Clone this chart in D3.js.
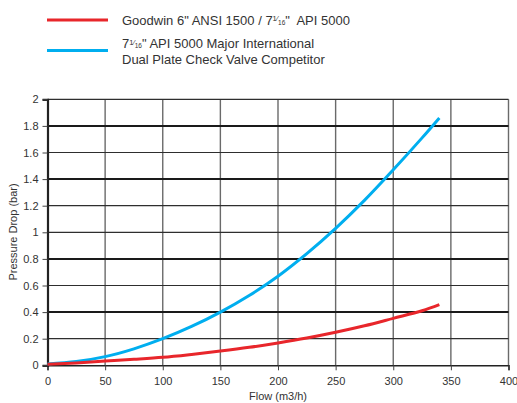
<!DOCTYPE html>
<html>
<head>
<meta charset="utf-8">
<script src="https://cdn.jsdelivr.net/npm/d3@7"></script>
<style>
  body { margin: 0; background: #fff; }
  svg { display: block; font-family: "Liberation Sans", Arial, sans-serif; }
</style>
</head>
<body>
<svg width="517" height="403"></svg>
<script>
// data
const flow = [0, 25, 50, 75, 100, 125, 150, 175, 200, 225, 250, 275, 300, 325, 340];
const goodwin = [0.008, 0.018, 0.032, 0.045, 0.06, 0.082, 0.107, 0.135, 0.168, 0.205, 0.248, 0.297, 0.353, 0.41, 0.456];
const competitor = [0.01, 0.028, 0.065, 0.124, 0.2, 0.292, 0.4, 0.525, 0.67, 0.84, 1.03, 1.24, 1.47, 1.71, 1.86];
const xTicks = [0, 50, 100, 150, 200, 250, 300, 350, 400];
const yTicks = [0, 0.2, 0.4, 0.6, 0.8, 1, 1.2, 1.4, 1.6, 1.8, 2];
const thickRows = [0.4, 0.8, 1.4, 1.8];

const redColor = "#e8262b";
const blueColor = "#00aeef";

const svg = d3.select("svg");

const xScale = d3.scaleLinear()
    .domain([0, 400])
    .range([47.5, 508.5]);

const yScale = d3.scaleLinear()
    .domain([0, 2])
    .range([365.3, 99.3]);

// vertical grid
svg.append("g")
    .selectAll("line")
    .data(xTicks.filter(v => v > 0))
    .enter().append("line")
    .attr("x1", d => xScale(d)).attr("x2", d => xScale(d))
    .attr("y1", yScale(2)).attr("y2", yScale(0))
    .attr("stroke", "#6a6a6a").attr("stroke-width", 1.4);

// horizontal grid
svg.append("g")
    .selectAll("line")
    .data(yTicks.filter(v => v > 0))
    .enter().append("line")
    .attr("x1", xScale(0)).attr("x2", xScale(400))
    .attr("y1", d => yScale(d)).attr("y2", d => yScale(d))
    .attr("stroke", d => thickRows.includes(d) ? "#1a1a1a" : "#2e2e2e")
    .attr("stroke-width", d => thickRows.includes(d) ? 2 : 1.2);

// axes
const xAxis = d3.axisBottom(xScale)
    .tickValues(xTicks)
    .tickSize(5)
    .tickFormat(d3.format("d"));

const yAxis = d3.axisLeft(yScale)
    .tickValues(yTicks)
    .tickSize(5)
    .tickFormat(d => d3.format("")(+d.toFixed(1)));

const gx = svg.append("g")
    .attr("transform", `translate(0, ${yScale(0)})`)
    .call(xAxis);
gx.select(".domain").attr("stroke", "#222").attr("stroke-width", 1.6);
gx.selectAll(".tick line").attr("stroke", "#444");
gx.selectAll(".tick text")
    .attr("fill", "#333").attr("font-size", 11).attr("dy", "1.1em")
    .style("font-family", "Liberation Sans, Arial, sans-serif");

const gy = svg.append("g")
    .attr("transform", `translate(${xScale(0)}, 0)`)
    .call(yAxis);
gy.select(".domain").attr("stroke", "#222").attr("stroke-width", 2.2);
gy.selectAll(".tick line").attr("stroke", "#444");
gy.selectAll(".tick text")
    .attr("fill", "#333").attr("font-size", 11).attr("x", -9)
    .style("font-family", "Liberation Sans, Arial, sans-serif");

// axis titles
svg.append("text")
    .attr("x", 278)
    .attr("y", 400)
    .attr("text-anchor", "middle")
    .attr("font-size", 11)
    .attr("fill", "#333")
    .text("Flow (m3/h)");

svg.append("text")
    .attr("transform", "translate(17, 232) rotate(-90)")
    .attr("text-anchor", "middle")
    .attr("font-size", 11)
    .attr("fill", "#333")
    .text("Pressure Drop (bar)");

// curves
const line = d3.line()
    .x(d => xScale(d[0]))
    .y(d => yScale(d[1]))
    .curve(d3.curveCatmullRom);

svg.append("path")
    .datum(flow.map((f, i) => [f, competitor[i]]))
    .attr("d", line)
    .attr("fill", "none")
    .attr("stroke", blueColor)
    .attr("stroke-width", 3);

svg.append("path")
    .datum(flow.map((f, i) => [f, goodwin[i]]))
    .attr("d", line)
    .attr("fill", "none")
    .attr("stroke", redColor)
    .attr("stroke-width", 3);

// legend
const fraction = (t) => {
    t.append("tspan").text("7");
    t.append("tspan").attr("font-size", 7.5).attr("dy", -3.5).text("1");
    t.append("tspan").attr("font-size", 7.5).attr("dy", 0).text("⁄");
    t.append("tspan").attr("font-size", 6.5).attr("dy", 3.5).text("16");
    t.append("tspan").attr("dy", 0).text("\"");
};

svg.append("line")
    .attr("x1", 47).attr("x2", 108).attr("y1", 20).attr("y2", 20)
    .attr("stroke", redColor).attr("stroke-width", 3);

svg.append("line")
    .attr("x1", 47).attr("x2", 108).attr("y1", 50.5).attr("y2", 50.5)
    .attr("stroke", blueColor).attr("stroke-width", 3);

const t1 = svg.append("text")
    .attr("x", 122).attr("y", 24.5)
    .attr("font-size", 13).attr("fill", "#333");
t1.append("tspan").text("Goodwin 6\" ANSI 1500 / ");
fraction(t1);
t1.append("tspan").text("\u00a0 API 5000");

const t2 = svg.append("text")
    .attr("x", 122).attr("y", 48)
    .attr("font-size", 13).attr("fill", "#333");
fraction(t2);
t2.append("tspan").text(" API 5000 Major International");

svg.append("text")
    .attr("x", 122).attr("y", 64)
    .attr("font-size", 13).attr("fill", "#333")
    .text("Dual Plate Check Valve Competitor");
</script>
</body>
</html>
